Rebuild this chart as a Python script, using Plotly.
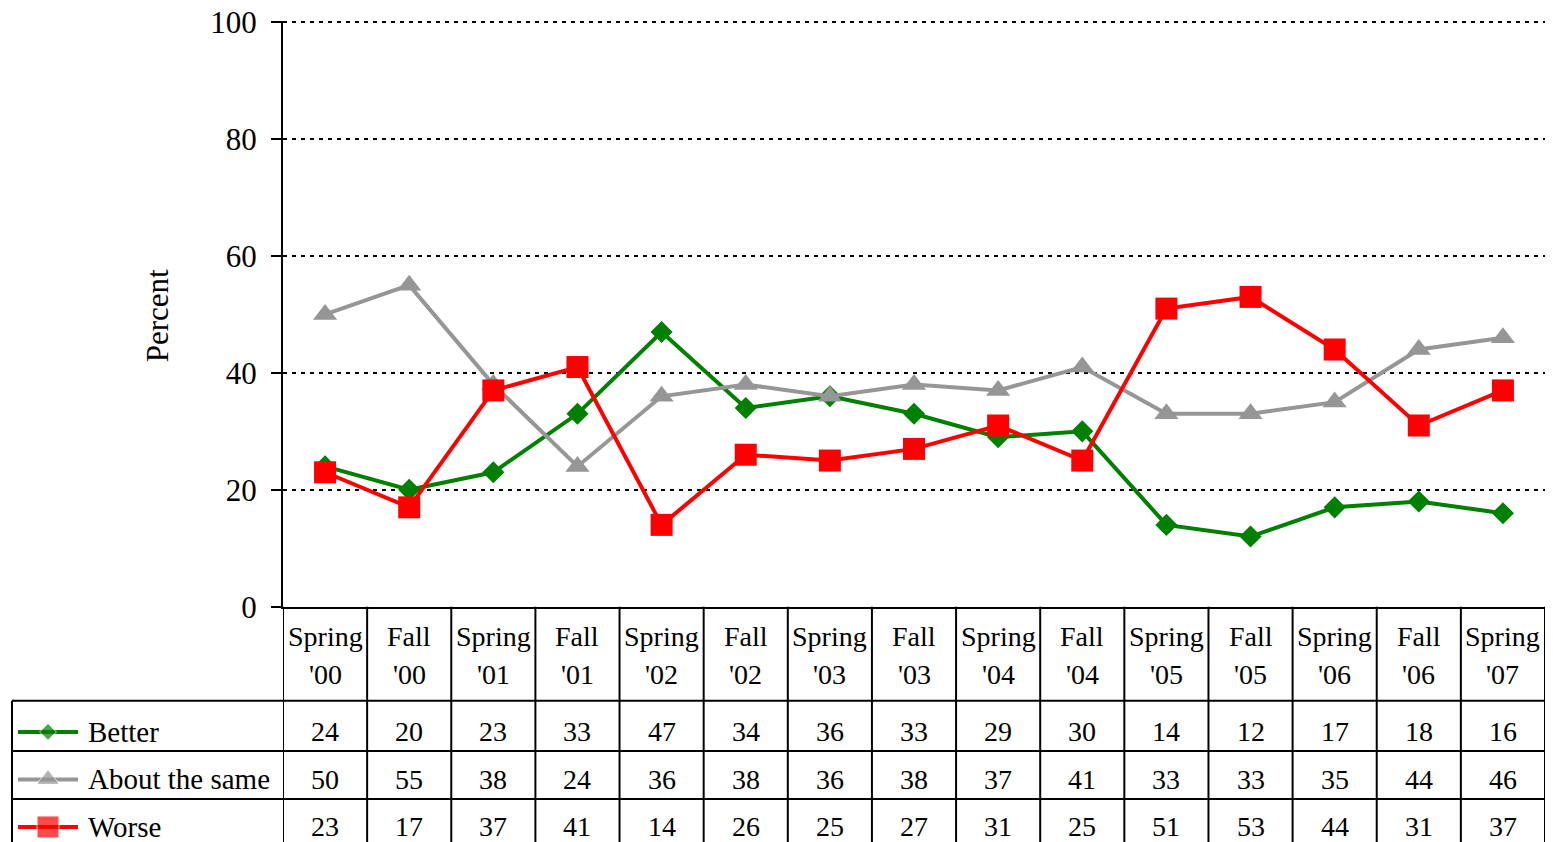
import plotly.graph_objects as go

periods = ["Spring '00", "Fall '00", "Spring '01", "Fall '01", "Spring '02",
           "Fall '02", "Spring '03", "Fall '03", "Spring '04", "Fall '04",
           "Spring '05", "Fall '05", "Spring '06", "Fall '06", "Spring '07"]

series_names = ["Better", "About the same", "Worse"]
better = [24, 20, 23, 33, 47, 34, 36, 33, 29, 30, 14, 12, 17, 18, 16]
same = [50, 55, 38, 24, 36, 38, 36, 38, 37, 41, 33, 33, 35, 44, 46]
worse = [23, 17, 37, 41, 14, 26, 25, 27, 31, 25, 51, 53, 44, 31, 37]

y_ticks = [0, 20, 40, 60, 80, 100]

# styles (size = marker on the chart, key = marker in the table legend)
FONT = "Liberation Serif"
styles = {
    "Better": dict(color="#008000", symbol="diamond", size=17, key=13),
    "About the same": dict(color="#969696", symbol="triangle-up", size=21,
                           key=20),
    "Worse": dict(color="#FF0000", symbol="square", size=22, key=22),
}
values = {"Better": better, "About the same": same, "Worse": worse}

# layout is measured on a 1553x842 picture; the captured page comes out a
# little taller, so stretch the figure height to compensate
REF_W, REF_H = 1553, 842
SY = 861 / 842
W, H = REF_W, round(REF_H * SY)
M_R = 8
M_T = 21 * SY
PW = W - M_R


def px_x(px):
    return px / PW


def px_y(py):
    # reference pixel row -> paper fraction (uniform stretch keeps fractions)
    return (REF_H - py) / (REF_H - 21)


fig = go.Figure()

for name in series_names:
    st = styles[name]
    fig.add_trace(go.Scatter(
        x=periods, y=values[name], name=name, mode="lines+markers",
        line=dict(color=st["color"], width=4),
        marker=dict(color=st["color"], symbol=st["symbol"], size=st["size"]),
        cliponaxis=False, showlegend=False,
    ))

# legend keys inside the data table
for name in series_names:
    st = styles[name]
    fig.add_trace(go.Scatter(
        x=[0, 1, 2], y=[name] * 3, mode="lines+markers",
        line=dict(color=st["color"], width=4),
        marker=dict(color=st["color"], symbol=st["symbol"],
                    size=[0, st["key"], 0]),
        xaxis="x2", yaxis="y2", cliponaxis=False, showlegend=False,
    ))

annotations = []
# data table values
for name in series_names:
    for p, v in zip(periods, values[name]):
        annotations.append(dict(
            x=p, y=name, xref="x", yref="y2", text=str(v), showarrow=False,
            font=dict(family=FONT, size=28, color="black"),
            xanchor="center", yanchor="middle"))
    annotations.append(dict(
        x=px_x(86), y=name, xref="paper", yref="y2", text=name,
        showarrow=False, font=dict(family=FONT, size=29, color="black"),
        xanchor="left", yanchor="middle"))

# header row (category labels, two lines each)
for p in periods:
    season, year = p.split(" ")
    for txt, py in [(season, 636), (year, 674)]:
        annotations.append(dict(
            x=p, y=px_y(py), xref="x", yref="paper", text=txt,
            showarrow=False, font=dict(family=FONT, size=28, color="black"),
            xanchor="center", yanchor="middle"))

# y-axis title
annotations.append(dict(
    x=px_x(157), y=px_y(316), xref="paper", yref="paper", text="Percent",
    textangle=-90, showarrow=False,
    font=dict(family=FONT, size=31, color="black"),
    xanchor="center", yanchor="middle"))

# table grid
shapes = []
line_style = dict(color="black", width=2)
for py in [700, 750, 798]:
    shapes.append(dict(type="line", xref="paper", yref="paper",
                       x0=px_x(12), x1=1, y0=px_y(py), y1=px_y(py),
                       line=line_style))
shapes.append(dict(type="line", xref="paper", yref="paper",
                   x0=px_x(12), x1=px_x(12), y0=0, y1=px_y(700),
                   line=line_style))
for k in range(len(periods) + 1):
    shapes.append(dict(type="line", xref="x", yref="paper",
                       x0=k - 0.5, x1=k - 0.5, y0=0, y1=px_y(606),
                       line=line_style))

fig.update_layout(
    width=W, height=H,
    margin=dict(l=0, r=M_R, t=M_T, b=0),
    paper_bgcolor="white", plot_bgcolor="white",
    font=dict(family=FONT, color="black"),
    xaxis=dict(
        domain=[px_x(283), 1], range=[-0.5, len(periods) - 0.5],
        showticklabels=False, ticks="", showgrid=False, zeroline=False,
        showline=True, linecolor="black", linewidth=2, anchor="y",
    ),
    yaxis=dict(
        domain=[px_y(606), 1], range=[0, 100.2], tickvals=y_ticks,
        ticks="outside", ticklen=10, tickwidth=2, tickcolor="black",
        tickfont=dict(family=FONT, size=31, color="black"),
        ticklabelstandoff=8,
        showgrid=True, gridcolor="black", gridwidth=2, griddash="4px,5px",
        zeroline=False, showline=True, linecolor="black", linewidth=2,
        anchor="x",
    ),
    xaxis2=dict(domain=[px_x(18), px_x(78)], range=[0, 2], visible=False,
                anchor="y2"),
    yaxis2=dict(domain=[0, px_y(700)], type="category",
                categoryarray=series_names, range=[2.337, -0.653],
                visible=False, anchor="x2"),
    annotations=annotations,
    shapes=shapes,
)

fig.write_html("out.html", config={"displayModeBar": False},
               post_script="document.body.style.margin='0';")
